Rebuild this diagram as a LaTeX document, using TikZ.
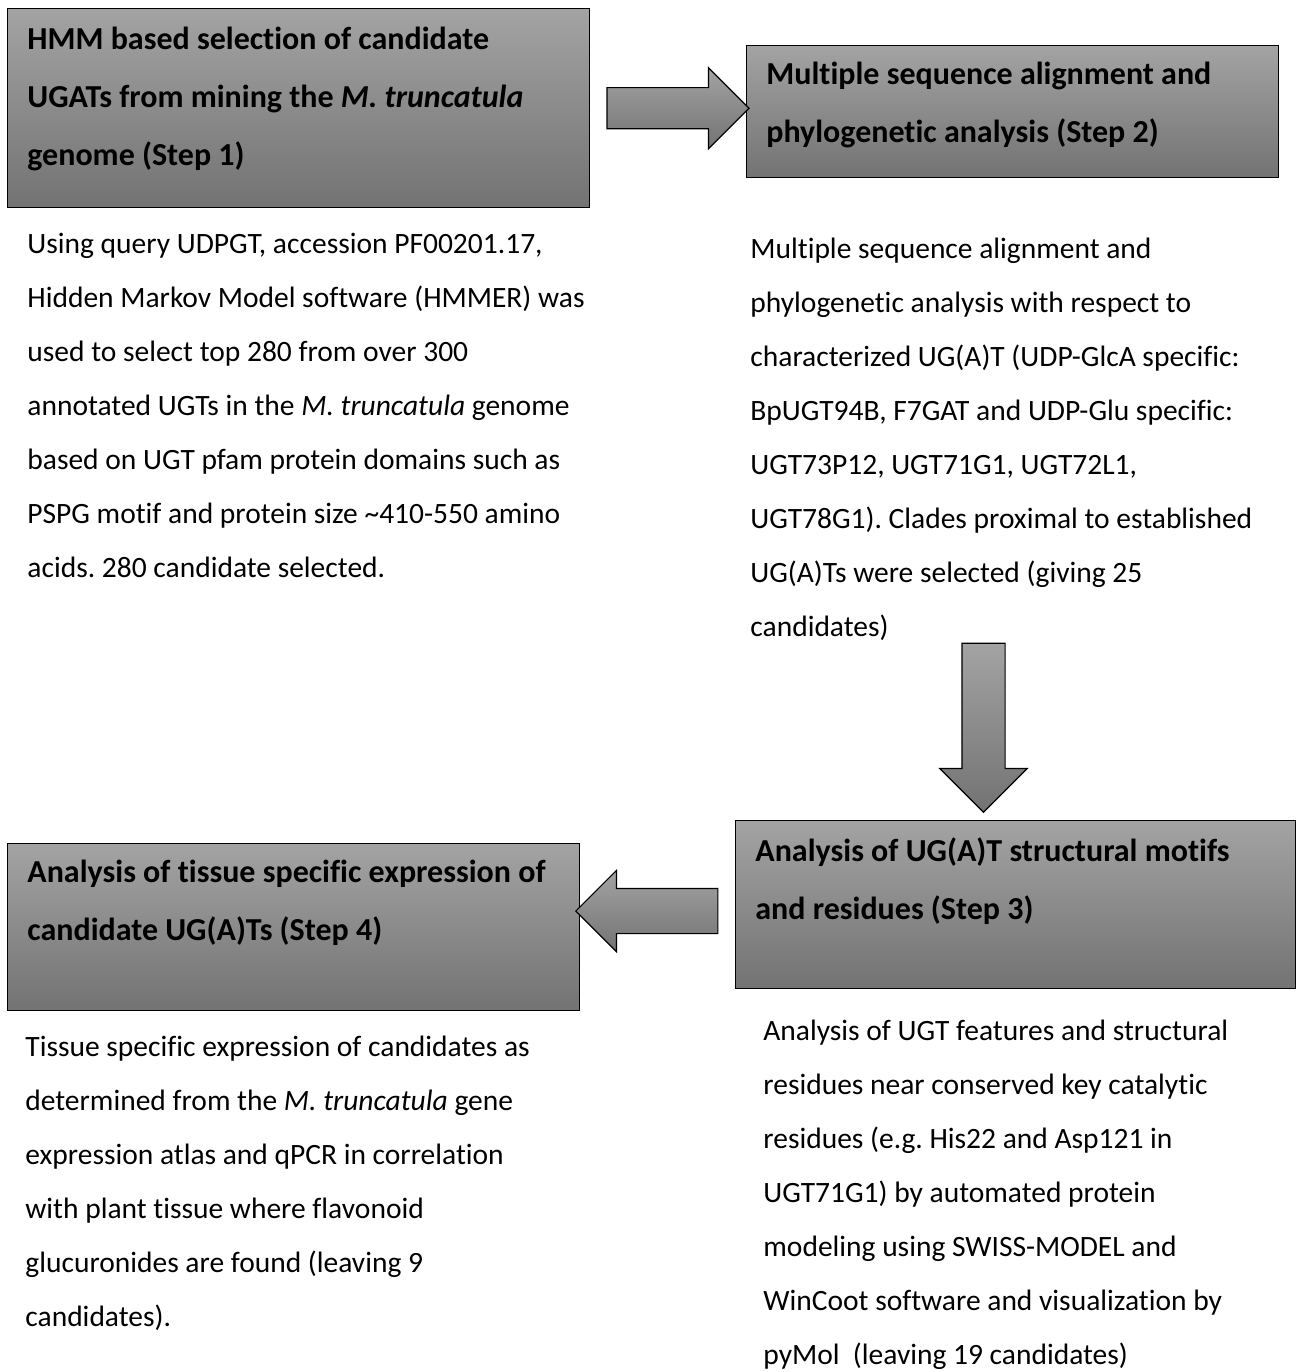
\documentclass[tikz,border=0pt]{standalone}
\usepackage{fontspec}
\setmainfont{Carlito}[Ligatures=NoCommon]
\usepackage{tikz}
\usetikzlibrary{positioning,shapes.arrows}
\frenchspacing

\definecolor{boxtop}{gray}{0.64}
\definecolor{boxbottom}{gray}{0.45}

\tikzset{
  stepbox/.style={draw=black, line width=0.7pt, top color=boxtop, bottom color=boxbottom, inner sep=0pt, anchor=north west},
  stephead/.style={anchor=north west, inner sep=0pt, align=left, font=\bfseries\fontsize{16}{29}\selectfont},
  stepbody/.style={anchor=north west, inner sep=0pt, align=left, font=\fontsize{14.75}{27}\selectfont},
  blockarrow/.style={single arrow, draw=black, line width=0.6pt, top color=boxtop, bottom color=boxbottom, inner sep=0pt,
    text width=#1, text height=#1, text depth=0pt, minimum height=71pt},
  blockarrow/.default=20pt
}

\begin{document}
\begin{tikzpicture}[x=0.5pt,y=-0.5pt]
\useasboundingbox (0,0) rectangle (1296,1372);

% the four steps
\node[stepbox, minimum width=291pt, minimum height=99.5pt] (box1) at (7,8) {};
\node[stepbox, minimum width=266pt, minimum height=66pt] (box2) at (746,45) {};
\node[stepbox, minimum width=280pt, minimum height=84pt] (box3) at (735,820) {};
\node[stepbox, minimum width=286pt, minimum height=83.5pt] (box4) at (7,843) {};

\node[stephead] (head1) at ([xshift=10pt,yshift=-9.5pt]box1.north west) {HMM based selection of candidate\\UGATs from mining the \textit{M. truncatula}\\genome (Step 1)};
\node[stephead] (head2) at ([xshift=10pt,yshift=-8.5pt]box2.north west) {Multiple sequence alignment and\\phylogenetic analysis (Step 2)};
\node[stephead] (head3) at ([xshift=10pt,yshift=-8.5pt]box3.north west) {Analysis of UG(A)T structural motifs\\and residues (Step 3)};
\node[stephead] (head4) at ([xshift=10pt,yshift=-8.5pt]box4.north west) {Analysis of tissue specific expression of\\candidate UG(A)Ts (Step 4)};

% arrows between steps
\node[blockarrow, single arrow head extend=10pt, right=8pt of box1] (arr12) {};
\node[blockarrow=21pt, shape border rotate=270, minimum height=84.5pt, single arrow head extend=11pt, anchor=tip] (arr23) at (983.5,813) {};
\node[blockarrow=22pt, shape border rotate=180, single arrow head extend=9pt, anchor=tip] (arr34) at (575,911) {};

% descriptions
\node[stepbody] (text1) at (27,233) {Using query UDPGT, accession PF00201.17,\\
Hidden Markov Model software (HMMER) was\\
used to select top 280 from over 300\\
annotated UGTs in the \textit{M. truncatula} genome\\
based on UGT pfam protein domains such as\\
PSPG motif and protein size \textasciitilde410-550 amino\\
acids. 280 candidate selected.};
\node[stepbody] (text2) at (750,238) {Multiple sequence alignment and\\
phylogenetic analysis with respect to\\
characterized UG(A)T (UDP-GlcA specific:\\
BpUGT94B, F7GAT and UDP-Glu specific:\\
UGT73P12, UGT71G1, UGT72L1,\\
UGT78G1). Clades proximal to established\\
UG(A)Ts were selected (giving 25\\
candidates)};
\node[stepbody] (text3) at (763,1020) {Analysis of UGT features and structural\\
residues near conserved key catalytic\\
residues (e.g. His22 and Asp121 in\\
UGT71G1) by automated protein\\
modeling using SWISS-MODEL and\\
WinCoot software and visualization by\\
pyMol\ \ (leaving 19 candidates)};
\node[stepbody] (text4) at (25,1036) {Tissue specific expression of candidates as\\
determined from the \textit{M. truncatula} gene\\
expression atlas and qPCR in correlation\\
with plant tissue where flavonoid\\
glucuronides are found (leaving 9\\
candidates).};
\end{tikzpicture}
\end{document}
